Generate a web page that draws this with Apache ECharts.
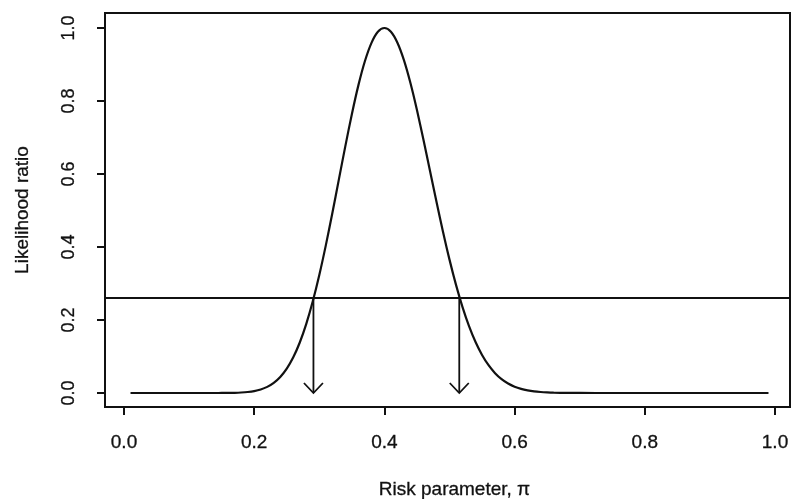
<!DOCTYPE html>
<html>
<head>
<meta charset="utf-8">
<script src="https://cdn.jsdelivr.net/npm/echarts@6/dist/echarts.min.js"></script>
<style>
html,body{margin:0;padding:0;background:#fff;}
#chart{width:791px;height:499px;}
</style>
</head>
<body>
<div id="chart"></div>
<script>
// Risk parameter (pi) values and likelihood ratio
const piValues = [0.01, 0.10, 0.12, 0.14, 0.15, 0.16, 0.17, 0.18, 0.19, 0.20,
  0.21, 0.22, 0.23, 0.24, 0.25, 0.26, 0.27, 0.28, 0.29, 0.30,
  0.31, 0.32, 0.33, 0.34, 0.35, 0.36, 0.37, 0.38, 0.39, 0.40,
  0.41, 0.42, 0.43, 0.44, 0.45, 0.46, 0.47, 0.48, 0.49, 0.50,
  0.51, 0.52, 0.53, 0.54, 0.55, 0.56, 0.57, 0.58, 0.59, 0.60,
  0.61, 0.62, 0.63, 0.64, 0.65, 0.66, 0.68, 0.70, 0.75, 0.99];
const lrValues = [0, 0, 0, 0, 0.0001, 0.0003, 0.0006, 0.0014, 0.0028, 0.0053,
  0.0097, 0.0168, 0.0278, 0.0439, 0.0668, 0.0979, 0.1384, 0.1894, 0.2512, 0.3233,
  0.4045, 0.4926, 0.5845, 0.6763, 0.7639, 0.8428, 0.9089, 0.9587, 0.9896, 1.0,
  0.9897, 0.9596, 0.9118, 0.8491, 0.7752, 0.6938, 0.6089, 0.5239, 0.4419, 0.3654,
  0.2962, 0.2353, 0.1831, 0.1396, 0.1042, 0.0761, 0.0544, 0.0380, 0.0260, 0.0173,
  0.0113, 0.0072, 0.0044, 0.0027, 0.0016, 0.0009, 0.0003, 0.0001, 0, 0];
const cutoff = 0.2585;
const intervalLimits = [0.291, 0.515];
const xTicks = [0, 0.2, 0.4, 0.6, 0.8, 1.0];
const yTicks = [0, 0.2, 0.4, 0.6, 0.8, 1.0];
const xTitle = 'Risk parameter, \u03c0';
const yTitle = 'Likelihood ratio';

const curveData = piValues.map((p, i) => [p, lrValues[i]]);
const arrowData = intervalLimits.map(p => [p, cutoff]);

const FONT = '"Liberation Sans", Arial, Helvetica, sans-serif';
const INK = '#111';
const chart = echarts.init(document.getElementById('chart'), null, {renderer: 'canvas'});
chart.setOption({
  animation: false,
  backgroundColor: '#fff',
  grid: {
    left: 105, right: 1, top: 13, bottom: 92,
    containLabel: false,
    outerBoundsMode: 'none',
    show: true, borderColor: INK, borderWidth: 2, backgroundColor: 'transparent'
  },
  xAxis: {
    type: 'value',
    min: -0.02919, max: 1.02304,
    name: xTitle,
    nameLocation: 'middle',
    nameGap: 73,
    nameTextStyle: {fontFamily: FONT, fontSize: 19, color: INK, padding: [0, 0, 0, 14], verticalAlign: 'top',
      textBorderColor: INK, textBorderWidth: 0.3},
    axisLine: {show: true, onZero: false, lineStyle: {color: INK, width: 2}},
    axisTick: {show: true, inside: false, length: 8, customValues: xTicks, lineStyle: {color: INK, width: 2}},
    axisLabel: {customValues: xTicks, margin: 26, fontFamily: FONT, fontSize: 19, color: INK,
      textBorderColor: INK, textBorderWidth: 0.3,
      formatter: v => v.toFixed(1)},
    splitLine: {show: false}
  },
  yAxis: {
    type: 'value',
    min: -0.03836, max: 1.04110,
    name: yTitle,
    nameLocation: 'middle',
    nameGap: 73,
    nameRotate: 90,
    nameTextStyle: {fontFamily: FONT, fontSize: 19, color: INK, textBorderColor: INK, textBorderWidth: 0.3},
    axisLine: {show: true, onZero: false, lineStyle: {color: INK, width: 2}},
    axisTick: {show: true, inside: false, length: 8, customValues: yTicks, lineStyle: {color: INK, width: 2}},
    axisLabel: {customValues: yTicks, rotate: 90, margin: 27, fontFamily: FONT, fontSize: 18, color: INK,
      textBorderColor: INK, textBorderWidth: 0.3,
      formatter: v => v.toFixed(1)},
    splitLine: {show: false}
  },
  series: [
    {
      type: 'line',
      data: curveData,
      showSymbol: false,
      smooth: 0.3,
      lineStyle: {color: INK, width: 2.2},
      markLine: {
        silent: true,
        symbol: ['none', 'none'],
        label: {show: false},
        lineStyle: {color: INK, width: 2, type: 'solid'},
        data: [{yAxis: cutoff}]
      },
      z: 3
    },
    {
      type: 'custom',
      data: arrowData,
      renderItem: function (params, api) {
        const top = api.coord([api.value(0), api.value(1)]);
        const tip = api.coord([api.value(0), 0]);
        const st = {stroke: INK, lineWidth: 1.8, fill: null};
        return {
          type: 'group',
          children: [
            {type: 'line', shape: {x1: top[0], y1: top[1], x2: tip[0], y2: tip[1]}, style: st},
            {type: 'polyline', shape: {points: [[tip[0] - 9.5, tip[1] - 10], [tip[0], tip[1]], [tip[0] + 9.5, tip[1] - 10]]}, style: st}
          ]
        };
      },
      z: 4
    }
  ]
});
</script>
</body>
</html>
